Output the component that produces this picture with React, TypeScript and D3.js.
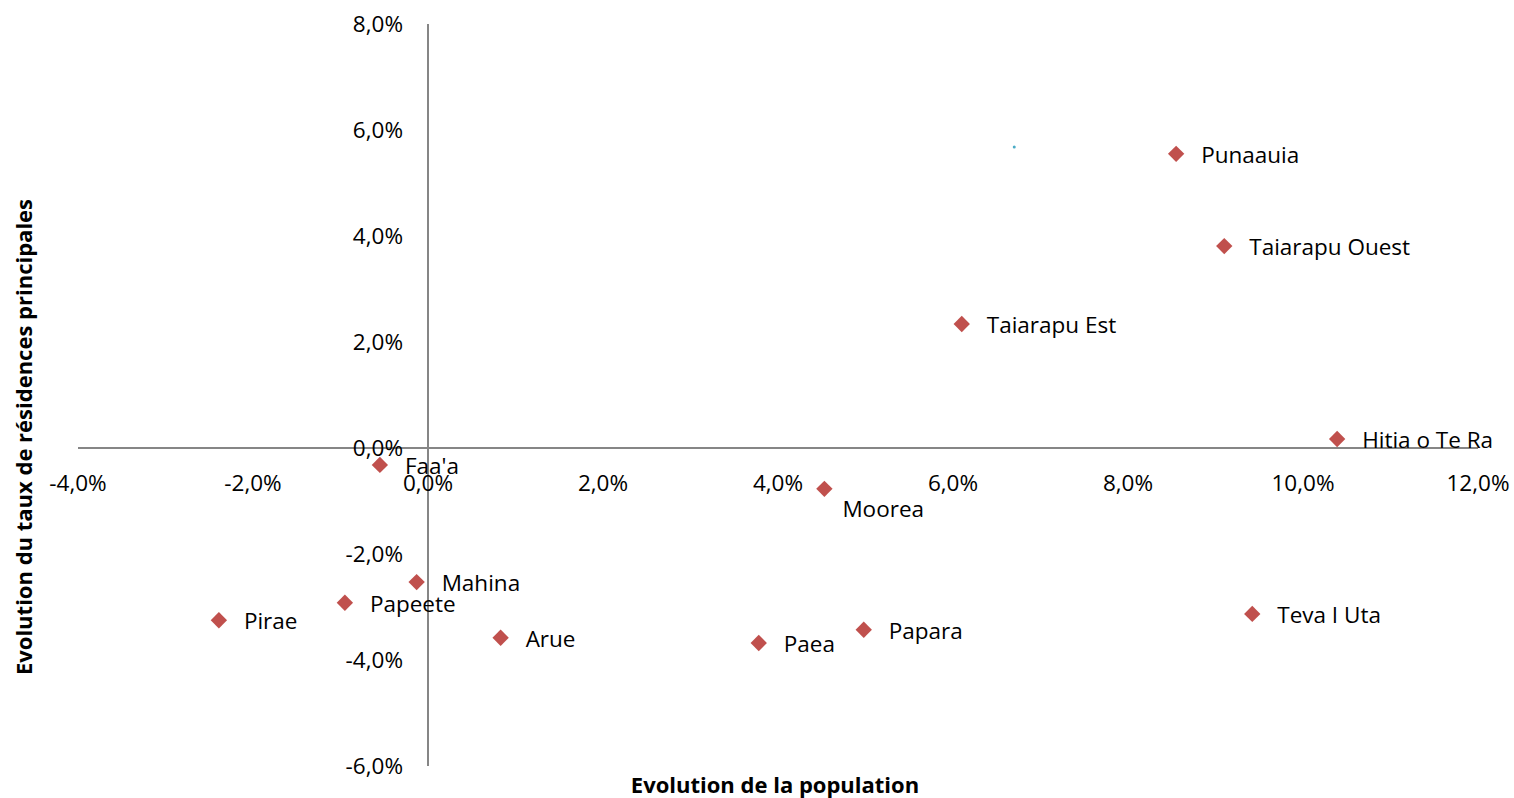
import React, { useRef, useEffect } from 'react';
import * as d3 from 'd3';

const communes = ['Punaauia', 'Taiarapu Ouest', 'Taiarapu Est', 'Hitia o Te Ra', "Faa'a", 'Moorea', 'Mahina', 'Papeete', 'Pirae', 'Arue', 'Paea', 'Papara', 'Teva I Uta'];
const popChange = [8.55, 9.1, 6.1, 10.39, -0.55, 4.53, -0.13, -0.95, -2.39, 0.83, 3.78, 4.98, 9.42];
const rpChange = [5.55, 3.81, 2.34, 0.17, -0.32, -0.77, -2.53, -2.92, -3.25, -3.58, -3.68, -3.43, -3.13];
const xTicks = [-4, -2, 0, 2, 4, 6, 8, 10, 12];
const yTicks = [-6, -4, -2, 0, 2, 4, 6, 8];
// stray point visible in the source
const strayPoint = [6.7, 5.68];

const fmt = (v: number) => `${v.toFixed(1).replace('.', ',')}%`;

export default function App() {
  const svgRef = useRef<SVGSVGElement | null>(null);

  useEffect(() => {
    if (!svgRef.current) return;
    const width = 1514, height = 798;
    const svg = d3.select(svgRef.current);
    svg.selectAll('*').remove();
    const font = '"Open Sans", sans-serif';

    const x = d3.scaleLinear().domain([-4, 12]).range([78, 1478]);
    const y = d3.scaleLinear().domain([-6, 8]).range([766, 24]);

    // axes crossing at zero
    svg.append('line').attr('x1', x(-4)).attr('x2', x(12)).attr('y1', y(0)).attr('y2', y(0))
      .attr('stroke', '#868686').attr('stroke-width', 2);
    svg.append('line').attr('x1', x(0)).attr('x2', x(0)).attr('y1', y(8)).attr('y2', y(-6))
      .attr('stroke', '#868686').attr('stroke-width', 2);

    svg.append('g').selectAll('text').data(yTicks).join('text')
      .attr('x', x(0) - 25).attr('y', (d) => y(d)).attr('dy', '0.35em')
      .attr('text-anchor', 'end').attr('font-family', font).attr('font-size', 22.5).attr('fill', '#000')
      .text((d) => fmt(d));

    svg.append('g').selectAll('text').data(xTicks).join('text')
      .attr('x', (d) => x(d)).attr('y', y(0) + 43)
      .attr('text-anchor', 'middle').attr('font-family', font).attr('font-size', 22.5).attr('fill', '#000')
      .text((d) => fmt(d));

    const sym = d3.symbol().type(d3.symbolDiamond2).size(170);
    const pts = communes.map((name, i) => ({ name, px: popChange[i], py: rpChange[i] }));

    svg.append('g').selectAll('path').data(pts).join('path')
      .attr('d', sym).attr('transform', (d) => `translate(${x(d.px)},${y(d.py)})`).attr('fill', '#C0504D');

    svg.append('circle').attr('cx', x(strayPoint[0])).attr('cy', y(strayPoint[1])).attr('r', 1.5).attr('fill', '#4BACC6');

    svg.append('g').selectAll('text').data(pts).join('text')
      .attr('x', (d) => d.name === 'Moorea' ? x(d.px) + 18 : x(d.px) + 25)
      .attr('y', (d) => d.name === 'Moorea' ? y(d.py) + 20 : y(d.py) + 1)
      .attr('dy', '0.35em').attr('font-family', font).attr('font-size', 22.5).attr('fill', '#000')
      .text((d) => d.name);

    svg.append('text').attr('x', 775).attr('y', 785).attr('dy', '0.35em').attr('text-anchor', 'middle')
      .attr('font-family', font).attr('font-weight', 'bold').attr('font-size', 22).text('Evolution de la population');

    svg.append('text').attr('transform', `translate(24,${437}) rotate(-90)`).attr('dy', '0.35em').attr('text-anchor', 'middle')
      .attr('font-family', font).attr('font-weight', 'bold').attr('font-size', 22).text('Evolution du taux de résidences principales');

    svg.attr('width', width).attr('height', height);
  }, []);

  return (
    <div style={{ position: 'absolute', left: 0, top: 0 }}>
      <svg ref={svgRef} style={{ display: 'block', background: '#fff' }} />
    </div>
  );
}
